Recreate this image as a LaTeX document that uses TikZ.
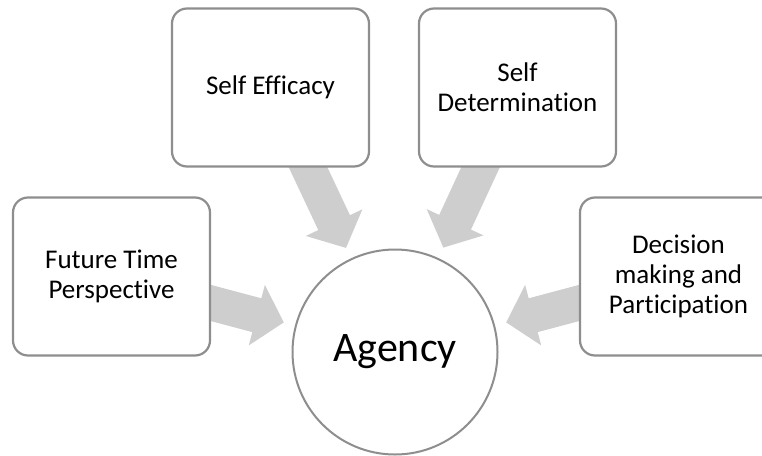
\documentclass[tikz,border=0pt]{standalone}
\usepackage{fontspec}
\setmainfont[Ligatures=NoCommon]{Carlito}
\usetikzlibrary{arrows.meta}
\usetikzlibrary{calc}
\usetikzlibrary{backgrounds}

\definecolor{edgegray}{HTML}{8E8E8E}
\definecolor{feedgray}{HTML}{CECECE}

\tikzset{
	factor/.style={draw=edgegray, line width=2.2pt, fill=white, rounded corners=15pt,
		minimum width=197pt, minimum height=158pt, align=center,
		font=\fontsize{27}{30}\selectfont},
	core/.style={draw=edgegray, line width=2pt, fill=white, circle,
		minimum size=205pt, inner sep=0pt, font=\fontsize{42}{48}\selectfont},
	feed/.style={draw=feedgray, line width=35pt,
		-{Triangle[width=61pt, length=28pt, fill=feedgray]}}
}

\begin{document}
\begin{tikzpicture}[x=1pt, y=-1pt]
	\useasboundingbox (0,0) rectangle (762,455);
	\clip (0,0) rectangle (762,455);

	\node[core] (agency) at (395,352) {Agency};

	\node[factor] (fut) at (111.5,276.5) {Future Time\\Perspective};
	\node[factor] (eff) at (270.5,87.5) {Self Efficacy};
	\node[factor] (det) at (517.5,87.5) {Self\\Determination};
	\node[factor] (dec) at (678.5,276.5) {Decision\\making and\\Participation};

	% block arrows sit behind the boxes
	\begin{pgfonlayer}{background}
		\foreach \b in {fut,eff,det,dec} {
			\draw[feed] (\b.center) -- ($(agency.center)!115pt!(\b.center)$);
		}
	\end{pgfonlayer}
\end{tikzpicture}
\end{document}
